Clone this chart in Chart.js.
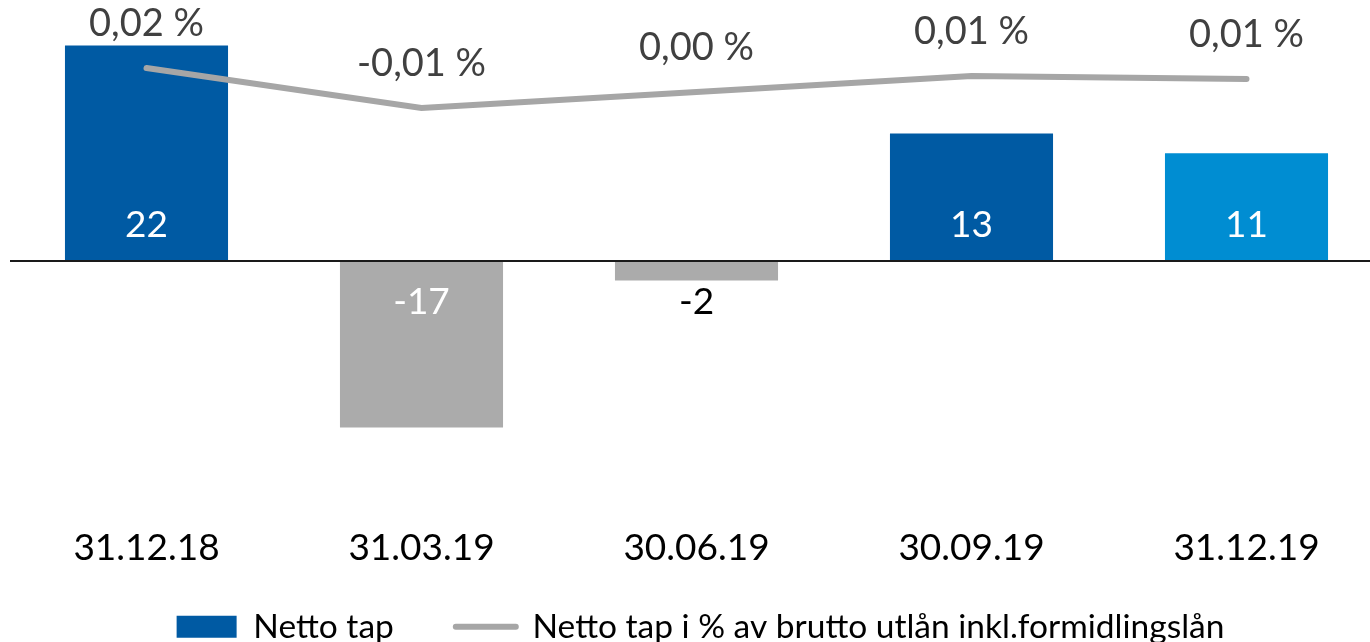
<!DOCTYPE html>
<html>
<head>
<meta charset="utf-8">
<script src="https://cdn.jsdelivr.net/npm/chart.js@4.4.1/dist/chart.umd.min.js"></script>
<style>
  html, body { margin: 0; padding: 0; background: #fff; overflow: hidden; }
  #wrap { width: 1384px; height: 642px; position: relative; }
</style>
</head>
<body>
<div id="wrap"><canvas id="grafico"></canvas></div>
<script>
// dados
const kvartaler = ['31.12.18', '31.03.19', '30.06.19', '30.09.19', '31.12.19'];
const nettoTap = [22, -17, -2, 13, 11];
const nettoTapProsent = [0.016, -0.010, 0.0004, 0.0108, 0.0089];

const farger = ['#005AA3', '#ABABAB', '#ABABAB', '#005AA3', '#008DD2'];
const FONT = 'Lato';

function fmtProsent(v) {
    let s = v.toFixed(2);
    if (s === '-0.00') s = '0.00';
    return s.replace('.', ',') + ' %';
}

// etiketter på søyler og linje
const etiketter = {
    id: 'etiketter',
    afterDatasetsDraw(chart) {
        const ctx = chart.ctx;
        const null0 = chart.scales.y.getPixelForValue(0);
        ctx.save();
        ctx.textAlign = 'center';
        ctx.textBaseline = 'middle';

        ctx.font = `37px ${FONT}`;
        const barMeta = chart.getDatasetMeta(1);
        barMeta.data.forEach((bar, i) => {
            const v = nettoTap[i];
            const h = Math.abs(bar.y - bar.base);
            const ty = v >= 0 ? null0 - 36 : null0 + 41;
            ctx.fillStyle = h > 60 ? '#ffffff' : '#000000';
            ctx.fillText(String(v), bar.x, ty);
        });

        ctx.font = `38px ${FONT}`;
        ctx.fillStyle = '#404040';
        const lineMeta = chart.getDatasetMeta(0);
        lineMeta.data.forEach((pt, i) => {
            ctx.fillText(fmtProsent(nettoTapProsent[i]), pt.x, pt.y - 44);
        });
        ctx.restore();
    }
};

// nullinje (tegnes over søylene)
const nullinje = {
    id: 'nullinje',
    afterDatasetsDraw(chart) {
        const ctx = chart.ctx;
        const y0 = chart.scales.y.getPixelForValue(0);
        ctx.save();
        ctx.strokeStyle = '#1a1a1a';
        ctx.lineWidth = 2;
        ctx.beginPath();
        ctx.moveTo(chart.chartArea.left + 1, y0);
        ctx.lineTo(chart.chartArea.right, y0);
        ctx.stroke();
        ctx.restore();
    }
};

// fast høyde på legenden, og flytt den litt ned etter layout
const legendeHoyde = {
    id: 'legendeHoyde',
    beforeInit(chart) {
        const fit = chart.legend.fit;
        chart.legend.fit = function () {
            fit.call(this);
            this.height = 74;
        };
    },
    afterLayout(chart) {
        const lg = chart.legend;
        lg.top = 548;
        lg.bottom = chart.height;
        lg.left += 4;
        lg.right += 4;
    }
};

const ctx = document.getElementById('grafico').getContext('2d');
const grafico = new Chart(ctx, {
    data: {
        labels: kvartaler,
        datasets: [
            {
                type: 'line',
                label: 'Netto tap i % av brutto utlån inkl.formidlingslån',
                data: nettoTapProsent,
                yAxisID: 'y1',
                borderColor: '#A6A6A6',
                backgroundColor: '#A6A6A6',
                borderWidth: 6,
                borderCapStyle: 'round',
                tension: 0,
                pointRadius: 0,
                order: 0
            },
            {
                type: 'bar',
                label: 'Netto tap',
                data: nettoTap,
                yAxisID: 'y',
                backgroundColor: farger,
                barPercentage: 0.593,
                categoryPercentage: 1,
                order: 1
            }
        ]
    },
    options: {
        responsive: true,
        maintainAspectRatio: false,
        animation: false,
        layout: { padding: { left: 9, right: 0, top: 16, bottom: 0 } },
        plugins: {
            tooltip: { enabled: false },
            legend: {
                position: 'bottom',
                labels: {
                    font: { family: FONT, size: 33.5 },
                    color: '#000',
                    usePointStyle: true,
                    pointStyleWidth: 60,
                    boxWidth: 60,
                    boxHeight: 22,
                    padding: 62,
                    generateLabels() {
                        return [
                            { text: 'Netto tap', fillStyle: '#005AA3', strokeStyle: '#005AA3', lineWidth: 0, pointStyle: 'rect', datasetIndex: 1, fontColor: '#000' },
                            { text: 'Netto tap i % av brutto utlån inkl.formidlingslån', fillStyle: '#A6A6A6', strokeStyle: '#A6A6A6', lineWidth: 6, lineCap: 'round', pointStyle: 'line', datasetIndex: 0, fontColor: '#000' }
                        ];
                    }
                }
            }
        },
        scales: {
            x: {
                grid: { display: false },
                border: { display: false },
                ticks: {
                    font: { family: FONT, size: 37 },
                    color: '#000',
                    padding: 12,
                    maxRotation: 0
                },
                afterFit(scale) { scale.height = 62; }
            },
            y: {
                display: false,
                min: -25,
                max: 25
            },
            y1: {
                display: false,
                min: -0.27,
                max: 0.05
            }
        }
    },
    plugins: [legendeHoyde, nullinje, etiketter]
});
</script>
</body>
</html>
